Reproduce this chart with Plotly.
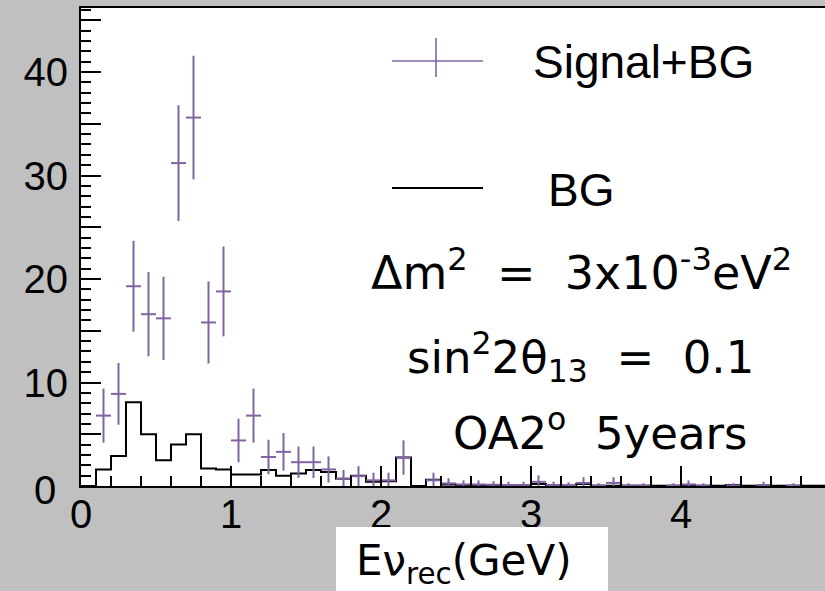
import plotly.graph_objects as go

# ---------------- data ----------------
bin_width = 0.1
bin_edges = [round(i * bin_width, 2) for i in range(51)]
bin_centers = [round(e + bin_width / 2, 3) for e in bin_edges[:-1]]

signal_bg = [None, 6.8, 8.9, 19.3, 16.6, 16.2, 31.2, 35.6, 15.8, 18.8,
             4.4, 6.8, 2.8, 3.3, 2.3, 2.3, 1.6, 0.7, 0.95, 0.55,
             0.55, 2.75, None, 0.55, 0.25, 0.15, 0.15, 0.12, 0.1, 0.1,
             0.4, 0.1, 0.08, 0.3, 0.05, 0.3, 0.05, 0.05, None, 0.05,
             0.15, 0.05, None, 0.05, None, 0.1, None, 0.05, None, None]
signal_err = [None, 2.61, 2.98, 4.39, 4.07, 4.02, 5.59, 5.97, 3.97, 4.34,
              2.10, 2.61, 1.67, 1.82, 1.52, 1.52, 1.26, 0.84, 0.97, 0.74,
              0.74, 1.66, None, 0.74, 0.50, 0.39, 0.39, 0.35, 0.32, 0.32,
              0.63, 0.32, 0.28, 0.55, 0.22, 0.55, 0.22, 0.22, None, 0.22,
              0.39, 0.22, None, 0.22, None, 0.32, None, 0.22, None, None]
bg = [0, 1.6, 2.9, 8.1, 5.0, 2.5, 4.0, 5.0, 1.7, 1.6,
      1.1, 1.1, 1.55, 1.0, 1.2, 1.55, 1.35, 0.7, 1.0, 0.4,
      0.45, 2.75, 0, 0.6, 0.15, 0.05, 0.05, 0.05, 0.03, 0.03,
      0.2, 0.02, 0.02, 0.2, 0.02, 0.02, 0.02, 0.02, 0.02, 0.02,
      0.02, 0.02, 0.02, 0.1, 0.02, 0.02, 0.02, 0.02, 0.02, 0.02]

y_tick_vals = [10, 20, 30, 40]
y_tick_text = ["10", "20", "30", "40"]
y_zero_label = "0"
y_mid_tick_vals = [5, 15, 25, 35, 45]
x_tick_vals = [0, 1, 2, 3, 4]
x_tick_text = ["0", "1", "2", "3", "4"]

# ---------------- style / layout ----------------
W, H = 825, 591
L, T, B = 81, 8, 486
R = W
PURPLE = "#8064a2"
GRAY = "#c0c0c0"
x_range = [0, (R - L) / 150.0]
y_range = [0, (B - T) / 10.35]


def px_x(p):
    return (p - L) / (R - L)


def px_y(p):
    return (B - p) / (B - T)


fig = go.Figure()

# BG step histogram
step_x = bin_edges[:-1] + [bin_edges[-1]]
step_y = bg + [bg[-1]]
fig.add_trace(go.Scatter(
    x=step_x, y=step_y, mode="lines",
    line=dict(shape="hv", color="black", width=2),
    name="BG", showlegend=False, hoverinfo="skip"))

# Signal+BG points with error bars
fig.add_trace(go.Scatter(
    x=bin_centers, y=signal_bg, mode="markers",
    marker=dict(size=1, color=PURPLE),
    error_y=dict(type="data", array=signal_err, visible=True,
                 color=PURPLE, thickness=2, width=0),
    error_x=dict(type="constant", value=bin_width / 2, visible=True,
                 color=PURPLE, thickness=2, width=0),
    name="Signal+BG", showlegend=False))

# empty trace on the overlay axis (medium ticks at every 5)
fig.add_trace(go.Scatter(x=[None], y=[None], yaxis="y2", showlegend=False,
                         hoverinfo="skip"))

tick_font = dict(family="Liberation Sans, Arial", size=40, color="black")
text_font = "DejaVu Sans, Verdana"

fig.update_layout(
    width=W, height=H,
    margin=dict(l=L, r=W - R, t=T, b=H - B, pad=0),
    paper_bgcolor=GRAY, plot_bgcolor="white",
    showlegend=False,
    xaxis=dict(range=x_range, showgrid=False, zeroline=False,
               showline=True, linewidth=2, linecolor="black", mirror=True,
               ticks="inside", ticklen=20, tickwidth=2, tickcolor="black",
               tickmode="array", tickvals=x_tick_vals, ticktext=x_tick_text,
               tickfont=tick_font, ticklabelstandoff=-8,
               minor=dict(ticks="inside", ticklen=10, tickwidth=2,
                          tickcolor="black", tickmode="linear", tick0=0, dtick=0.2)),
    yaxis=dict(range=y_range, showgrid=False, zeroline=False,
               showline=True, linewidth=2, linecolor="black", mirror=False,
               ticks="inside", ticklen=20, tickwidth=2, tickcolor="black",
               tickmode="array", tickvals=y_tick_vals, ticktext=y_tick_text,
               tickfont=tick_font, ticklabelstandoff=3,
               minor=dict(ticks="inside", ticklen=10, tickwidth=2,
                          tickcolor="black", tickmode="linear", tick0=0, dtick=1)),
    yaxis2=dict(range=y_range, overlaying="y", side="left", showgrid=False,
                zeroline=False, showline=False, showticklabels=False,
                ticks="inside", ticklen=20, tickwidth=2, tickcolor="black",
                tickmode="array", tickvals=y_mid_tick_vals),
)

shapes = [
    # white box behind x-axis title
    dict(type="rect", xref="paper", yref="paper", layer="above",
         x0=px_x(336), x1=px_x(608), y0=px_y(600), y1=px_y(527),
         fillcolor="white", line=dict(width=0)),
    # legend: Signal+BG cross
    dict(type="line", xref="paper", yref="paper",
         x0=px_x(392), x1=px_x(483), y0=px_y(61), y1=px_y(61),
         line=dict(color=PURPLE, width=1.6)),
    dict(type="line", xref="paper", yref="paper",
         x0=px_x(436), x1=px_x(436), y0=px_y(38), y1=px_y(77),
         line=dict(color=PURPLE, width=1.6)),
    # legend: BG line
    dict(type="line", xref="paper", yref="paper",
         x0=px_x(392), x1=px_x(483), y0=px_y(188), y1=px_y(188),
         line=dict(color="black", width=2)),
]
fig.update_layout(shapes=shapes)

annotations = [
    dict(text=y_zero_label, x=px_x(58), y=px_y(490), xanchor="right", yanchor="middle",
         font=tick_font),
    dict(text="Signal+BG", x=px_x(531), y=px_y(62), xanchor="left", yanchor="middle",
         font=dict(family="Liberation Sans, Arial", size=46, color="black")),
    dict(text="BG", x=px_x(546), y=px_y(190), xanchor="left", yanchor="middle",
         font=dict(family="Liberation Sans, Arial", size=46, color="black")),
    dict(text="\u0394m<sup>2</sup>&nbsp; =&nbsp; 3x10<sup>-3</sup>eV<sup>2</sup>", x=px_x(581), y=px_y(270),
         xanchor="center", yanchor="middle",
         font=dict(family=text_font, size=46, color="black")),
    dict(text="sin<sup>2</sup>2\u03b8<sub>13</sub>&nbsp; =&nbsp; 0.1", x=px_x(580), y=px_y(357),
         xanchor="center", yanchor="middle",
         font=dict(family=text_font, size=45, color="black")),
    dict(text="OA2<sup>o</sup>&nbsp; 5years", x=px_x(600), y=px_y(430),
         xanchor="center", yanchor="middle",
         font=dict(family=text_font, size=45, color="black")),
    dict(text="E\u03bd<sub>rec</sub>(GeV)", x=px_x(464), y=px_y(563),
         xanchor="center", yanchor="middle",
         font=dict(family=text_font, size=42, color="black")),
]
for a in annotations:
    a.update(xref="paper", yref="paper", showarrow=False)
fig.update_layout(annotations=annotations)

fig.write_html("out.html")
